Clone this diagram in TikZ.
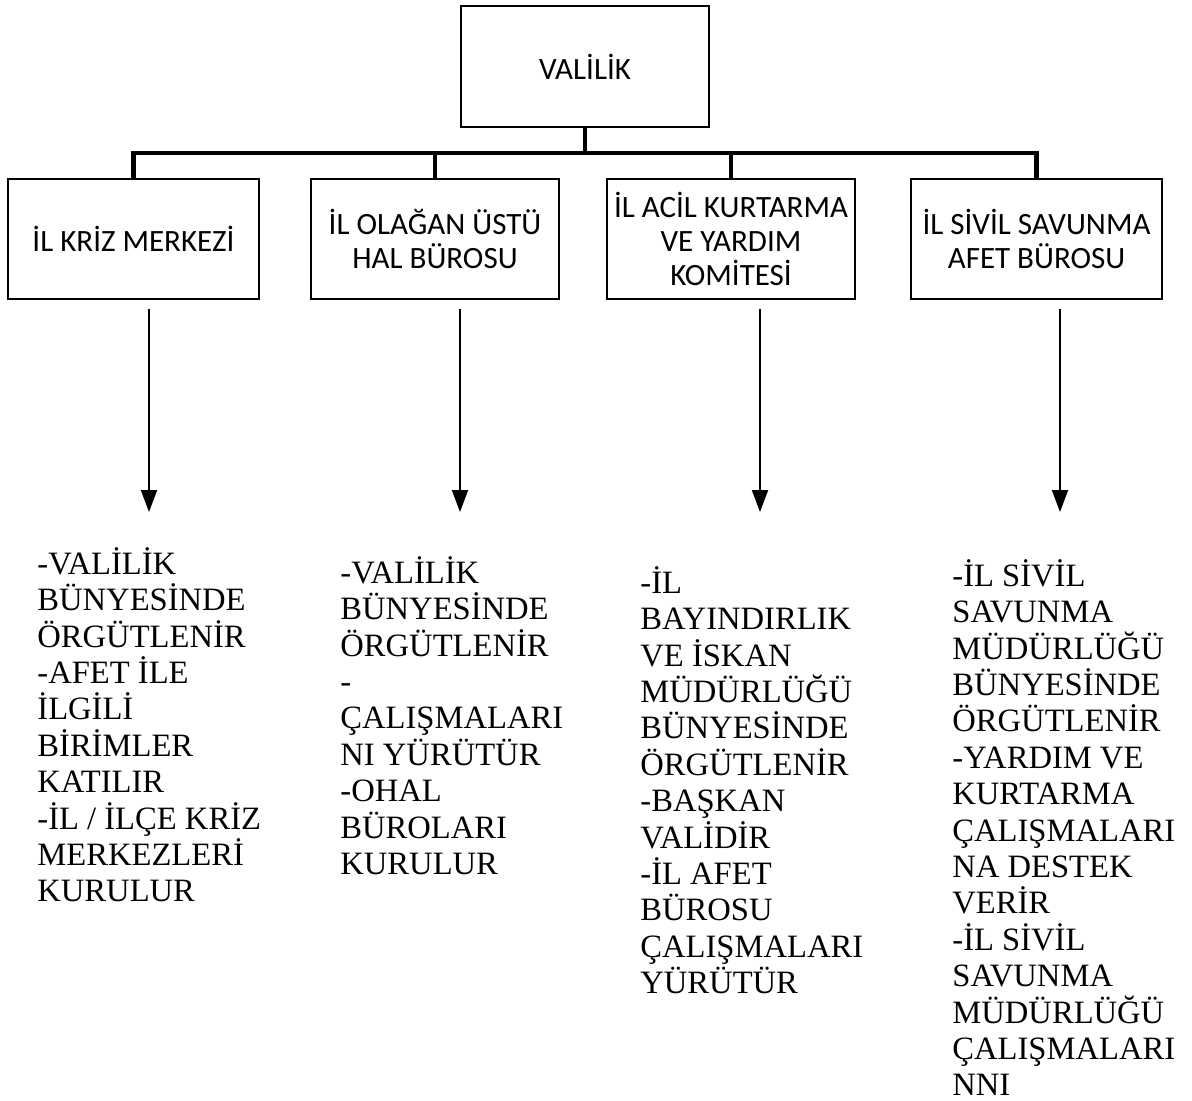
\documentclass[tikz,border=0pt]{standalone}
\usepackage{fontspec}
\setmainfont{Liberation Serif}
\newfontfamily\boxfont{Carlito}
\usetikzlibrary{arrows.meta}
\begin{document}
\begin{tikzpicture}[x=0.5pt,y=-0.5pt,
  unit/.style={draw,line width=1pt,inner sep=0pt,align=center,
    minimum height=60pt,font=\boxfont\fontsize{15.5}{17}\selectfont},
  bus/.style={line width=2.4pt},
  down/.style={line width=1pt,shorten <=4.5pt,-{Triangle[width=8pt,length=11pt]}},
  duty/.style={anchor=north west,inner sep=0pt,align=left,
    font=\fontsize{16.3}{18.2}\selectfont}]
\useasboundingbox (0,0) rectangle (1192,1101);

% top office
\node[unit,minimum width=124pt,minimum height=60.5pt] (valilik) at (585,66.5) {VALİLİK};

% four provincial units
\node[unit,minimum width=125.5pt] (b1) at (133.5,239) {İL KRİZ MERKEZİ};
\node[unit,minimum width=124pt] (b2) at (435,239) {İL OLAĞAN ÜSTÜ\\HAL BÜROSU};
\node[unit,minimum width=124pt] (b3) at (731,239) {İL ACİL KURTARMA\\VE YARDIM\\KOMİTESİ};
\node[unit,minimum width=125.5pt] (b4) at (1036.5,239) {İL SİVİL SAVUNMA\\AFET BÜROSU};

% connecting bus
\coordinate (bus) at (585,153);
\draw[bus] (valilik.south) -- (valilik.south |- bus);
\draw[bus] (b1.north) -- (b1.north |- bus) -- (b4.north |- bus) -- (b4.north);
\draw[bus] (b2.north) -- (b2.north |- bus);
\draw[bus] (b3.north) -- (b3.north |- bus);

% arrow tips
\coordinate (t1) at (149,512);
\coordinate (t2) at (460,512);
\coordinate (t3) at (760,512);
\coordinate (t4) at (1060,512);
\draw[down] (t1 |- b1.south) -- (t1);
\draw[down] (t2 |- b2.south) -- (t2);
\draw[down] (t3 |- b3.south) -- (t3);
\draw[down] (t4 |- b4.south) -- (t4);

% duties of each unit
\node[duty] (d1) at (37,547) {-VALİLİK\\BÜNYESİNDE\\ÖRGÜTLENİR\\-AFET İLE\\İLGİLİ\\BİRİMLER\\KATILIR\\-İL / İLÇE KRİZ\\MERKEZLERİ\\KURULUR};
\node[duty] (d2) at (340,556) {-VALİLİK\\BÜNYESİNDE\\ÖRGÜTLENİR\\-\\ÇALIŞMALARI\\NI YÜRÜTÜR\\-OHAL\\BÜROLARI\\KURULUR};
\node[duty] (d3) at (640,566) {-İL\\BAYINDIRLIK\\VE İSKAN\\MÜDÜRLÜĞÜ\\BÜNYESİNDE\\ÖRGÜTLENİR\\-BAŞKAN\\VALİDİR\\-İL AFET\\BÜROSU\\ÇALIŞMALARI\\YÜRÜTÜR};
\node[duty] (d4) at (952,559) {-İL SİVİL\\SAVUNMA\\MÜDÜRLÜĞÜ\\BÜNYESİNDE\\ÖRGÜTLENİR\\-YARDIM VE\\KURTARMA\\ÇALIŞMALARI\\NA DESTEK\\VERİR\\-İL SİVİL\\SAVUNMA\\MÜDÜRLÜĞÜ\\ÇALIŞMALARI\\NNI};
\end{tikzpicture}
\end{document}
